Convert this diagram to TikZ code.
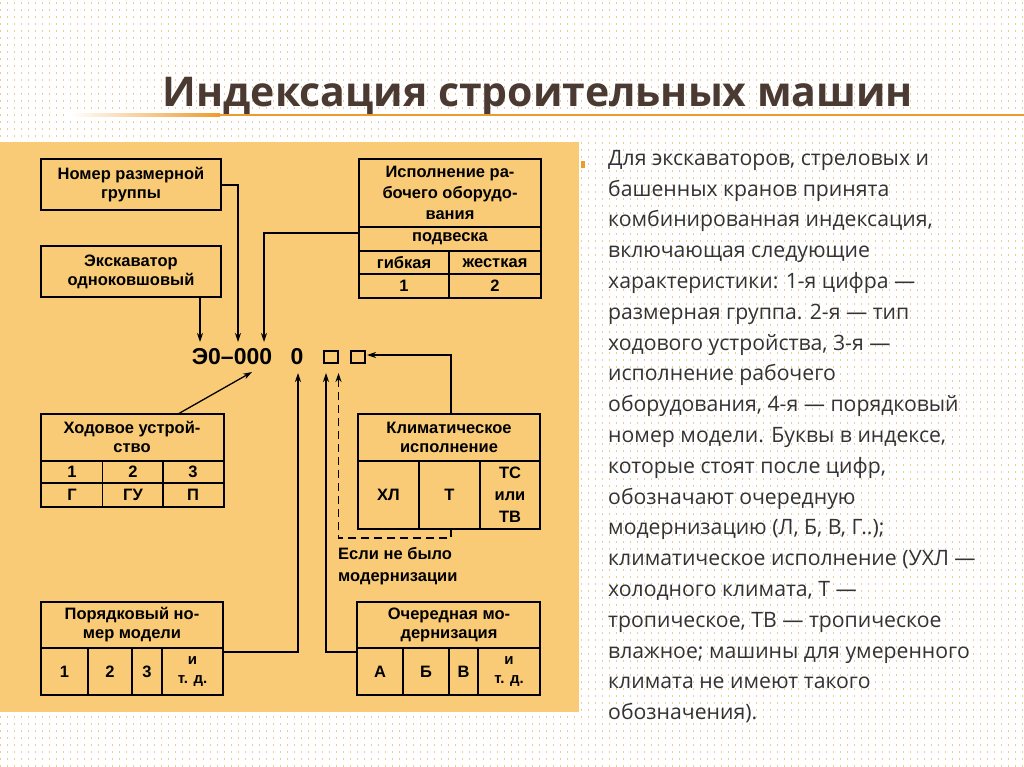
\documentclass[tikz,border=0pt]{standalone}
\usepackage{fontspec}
\setmainfont{Liberation Sans}
\newfontfamily\bodyfont{Open Sans}
\usetikzlibrary{arrows.meta}
\definecolor{panel}{HTML}{F9CB76}
\definecolor{dotc}{HTML}{EBCB98}
\definecolor{titlec}{HTML}{4A3A32}
\definecolor{linec}{HTML}{EE9B2E}
\definecolor{bodyc}{HTML}{333333}
\begin{document}
\begin{tikzpicture}[x=1pt,y=-1pt,
  bx/.style={draw=black,line width=2pt},
  gl/.style={draw=black,line width=1.5pt},
  cn/.style={draw=black,line width=1.3pt},
  ar/.style={cn,-{Stealth[length=9pt,width=6pt]}},
  tx/.style={font=\bfseries\fontsize{16.5}{19}\selectfont,align=center,inner sep=0pt},
  ]
\useasboundingbox (0,0) rectangle (1024,767);
\fill[white] (0,0) rectangle (1024,767);
\foreach \r in {0,...,110} {
  \draw[dotc,line width=1.4pt,dash pattern=on 1.4pt off 5.6pt] (0,{3+\r*7}) -- (1024,{3+\r*7});
}
% title
\node[font=\bodyfont\bfseries\fontsize{41}{44}\selectfont,text=titlec,anchor=center] (title) at (538,97) {Индексация строительных машин};
\shade[left color=white,right color=linec] (70,114) rectangle (220,116.5);
\fill[linec] (220,114) rectangle (1024,116.5);
% panel
\fill[panel] (0,142) rectangle (579,712);
% bullet
\fill[linec] (581,161) rectangle (585,168);
% right text
\node[anchor=north west,align=left,text=bodyc,font=\bodyfont\fontsize{21.2}{30.8}\selectfont,inner sep=0pt] (body) at (608,150) {Для экскаваторов, стреловых и\\
башенных кранов принята\\
комбинированная индексация,\\
включающая следующие\\
характеристики: 1-я цифра —\\
размерная группа. 2-я — тип\\
ходового устройства, 3-я —\\
исполнение рабочего\\
оборудования, 4-я — порядковый\\
номер модели. Буквы в индексе,\\
которые стоят после цифр,\\
обозначают очередную\\
модернизацию (Л, Б, В, Г..);\\
климатическое исполнение (УХЛ —\\
холодного климата, Т —\\
тропическое, ТВ — тропическое\\
влажное; машины для умеренного\\
климата не имеют такого\\
обозначения).};
% box1
\draw[bx] (41,159) rectangle (221,210);
\node[tx] (b1) at (131,184.5) {Номер размерной\\группы};
% box2
\draw[bx] (41,246) rectangle (221,297);
\node[tx] (b2) at (131,271.5) {Экскаватор\\одноковшовый};
% box3
\draw[bx] (359,159) rectangle (541,298);
\draw[gl] (359,227)--(541,227) (359,251)--(541,251) (359,274)--(541,274) (449,251)--(449,298);
\node[tx,font=\bfseries\fontsize{16.5}{21}\selectfont] (b3) at (450,193) {Исполнение ра-\\бочего оборудо-\\вания};
\node[tx] at (450,239) {подвеска};
\node[tx] at (404,263) {гибкая};
\node[tx] at (495,263) {жесткая};
\node[tx] at (404,286) {1};
\node[tx] at (495,286) {2};
% index
\node[font=\bfseries\fontsize{23}{24}\selectfont,inner sep=0pt] (idx) at (232,357) {Э0–000};
\node[font=\bfseries\fontsize{23}{24}\selectfont,inner sep=0pt] (zero) at (297,357) {0};
\draw[line width=2.4pt] (324,351) rectangle (338,363);
\draw[line width=2.4pt] (351,351) rectangle (365,363);
\coordinate (sq2) at (367,355);
% arrows top
\draw[ar] (200,297) -- (200,342);
\draw[ar] (221,185) -- (238,185) -- (238,342);
\draw[ar] (359,233) -- (264,233) -- (264,342);
% Ходовое
\draw[bx] (41,414) rectangle (224,507);
\draw[gl] (41,461)--(224,461) (41,483)--(224,483) (102.5,461)--(102.5,507) (163,461)--(163,507);
\node[tx] (b4) at (132,437) {Ходовое устрой-\\ство};
\node[tx] at (72,472) {1}; \node[tx] at (133,472) {2}; \node[tx] at (193,472) {3};
\node[tx] at (72,495) {Г}; \node[tx] at (133,495) {ГУ}; \node[tx] at (193,495) {П};
\draw[ar] (178,414) -- (252,372);
% Климатическое
\draw[bx] (358,414) rectangle (540,529);
\draw[gl] (358,461)--(540,461) (419,461)--(419,529) (480,461)--(480,529);
\node[tx] (b5) at (449,437) {Климатическое\\исполнение};
\node[tx] at (388.5,495) {ХЛ}; \node[tx] at (449.5,495) {Т};
\node[tx,font=\bfseries\fontsize{16.5}{22}\selectfont] at (510,495) {ТС\\или\\ТВ};
\draw[ar] (451,414) -- (451,355) -- (sq2);
\draw[cn,dash pattern=on 8pt off 5pt] (451,529) -- (451,538) -- (338.5,538) -- (338.5,380);
\draw[cn,-{Stealth[length=9pt,width=6pt]}] (338.5,382) -- (338.5,373);
\node[tx,align=left,anchor=west,font=\bfseries\fontsize{16.5}{22.5}\selectfont] (note) at (338,566) {Если не было\\модернизации};
% Порядковый
\draw[bx] (41,602) rectangle (223,695);
\draw[gl] (41,648)--(223,648) (88,648)--(88,695) (132,648)--(132,695) (162,648)--(162,695);
\node[tx] (b6) at (132,625) {Порядковый но-\\мер модели};
\node[tx] at (64.5,672) {1}; \node[tx] at (110,672) {2}; \node[tx] at (147,672) {3};
\node[tx,font=\bfseries\fontsize{15}{19}\selectfont] at (192.5,672) {и\\т. д.};
\draw[ar] (223,652) -- (298,652) -- (298,373);
% Очередная
\draw[bx] (357,602) rectangle (540,695);
\draw[gl] (357,648)--(540,648) (403,648)--(403,695) (449,648)--(449,695) (478,648)--(478,695);
\node[tx] (b7) at (449,625) {Очередная мо-\\дернизация};
\node[tx] at (380,672) {А}; \node[tx] at (426,672) {Б}; \node[tx] at (463.5,672) {В};
\node[tx,font=\bfseries\fontsize{15}{19}\selectfont] at (509,672) {и\\т. д.};
\draw[ar] (357,652) -- (326,652) -- (326,373);
\end{tikzpicture}
\end{document}
